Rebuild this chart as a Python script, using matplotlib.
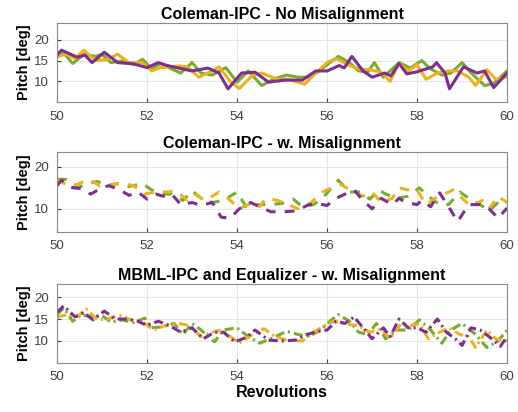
import numpy as np
import matplotlib
matplotlib.use("Agg")
import matplotlib.pyplot as plt

plt.rcParams['font.family'] = ['Liberation Sans', 'DejaVu Sans']

# colours (MATLAB-ish)
GREEN = '#77AC30'
ORANGE = '#EDB120'
PURPLE = '#7E2F8E'

# ---- panel 1: Coleman-IPC - No Misalignment (solid) ----
p1_purple_x = [50.0, 50.1, 50.45, 50.62, 50.78, 51.05, 51.35, 51.7, 52.0, 52.25, 52.45, 52.7, 53.0, 53.35,
               53.6, 53.8, 54.1, 54.4, 54.7, 55.07, 55.45, 55.75, 56.0, 56.27, 56.38, 56.55, 56.8, 57.0,
               57.28, 57.42, 57.6, 57.77, 58.0, 58.35, 58.43, 58.62, 58.72, 59.03, 59.33, 59.5, 59.7, 60.0]
p1_purple_y = [16.3, 17.5, 15.8, 16.3, 14.5, 17.0, 14.5, 14.2, 13.3, 14.5, 13.8, 13.2, 12.5, 13.2,
               12.0, 8.2, 12.0, 12.2, 9.8, 10.3, 10.3, 12.5, 12.5, 13.8, 13.2, 16.0, 12.5, 11.0,
               12.0, 11.3, 14.3, 11.8, 12.3, 13.5, 14.5, 12.0, 8.2, 13.5, 12.0, 12.5, 8.5, 12.0]
p1_green_x = [50.0, 50.15, 50.35, 50.6, 50.85, 51.0, 51.2, 51.5, 51.7, 51.9, 52.1, 52.3, 52.5, 52.75, 53.0,
              53.2, 53.45, 53.75, 54.0, 54.25, 54.55, 54.8, 55.1, 55.35, 55.6, 55.8, 56.1, 56.25, 56.5,
              56.7, 56.9, 57.05, 57.25, 57.45, 57.6, 57.85, 58.1, 58.3, 58.55, 58.75, 59.0, 59.2, 59.5,
              59.7, 60.0]
p1_green_y = [15.8, 16.8, 14.3, 16.5, 16.0, 16.5, 14.5, 15.0, 14.0, 15.3, 13.0, 14.3, 13.2, 12.0, 14.5,
              12.0, 11.5, 13.3, 9.8, 12.5, 9.0, 10.5, 11.5, 11.0, 11.0, 12.3, 14.8, 16.0, 14.5,
              12.5, 12.2, 14.5, 11.0, 13.0, 14.5, 13.2, 15.0, 13.0, 11.5, 12.0, 14.5, 12.0, 9.0,
              9.5, 12.5]
p1_orange_x = [50.0, 50.2, 50.4, 50.6, 50.85, 51.1, 51.35, 51.6, 51.9, 52.1, 52.3, 52.5, 52.7, 52.9, 53.15,
               53.45, 53.6, 53.85, 54.05, 54.35, 54.55, 54.9, 55.15, 55.5, 55.75, 56.0, 56.2, 56.5, 56.7,
               56.95, 57.2, 57.4, 57.6, 57.8, 58.0, 58.2, 58.45, 58.7, 58.9, 59.15, 59.3, 59.55, 59.75, 60.0]
p1_orange_y = [16.0, 16.5, 15.5, 17.5, 15.0, 15.2, 16.5, 14.5, 14.5, 12.5, 13.3, 13.5, 13.7, 13.5, 11.0,
               12.5, 13.5, 10.0, 8.3, 11.5, 12.0, 10.5, 10.5, 9.3, 12.0, 14.5, 15.5, 13.8, 13.0,
               12.8, 12.2, 10.0, 14.5, 12.5, 14.0, 10.5, 12.0, 12.5, 12.5, 11.0, 9.0, 12.8, 10.5, 11.0]

# ---- panel 2: Coleman-IPC - w. Misalignment (dashed) ----
p2_purple_x = [50.0, 50.1, 50.35, 50.55, 50.75, 51.0, 51.15, 51.4, 51.6, 51.8, 52.0, 52.2, 52.35, 52.55,
               52.75, 53.0, 53.2, 53.45, 53.65, 53.85, 54.05, 54.3, 54.5, 54.75, 55.05, 55.3, 55.6, 55.8,
               56.0, 56.2, 56.4, 56.6, 56.8, 57.0, 57.2, 57.45, 57.6, 57.75, 58.0, 58.1, 58.3, 58.5,
               58.7, 58.9, 59.15, 59.4, 59.6, 59.8, 60.0]
p2_purple_y = [15.5, 16.8, 15.0, 14.8, 13.5, 15.0, 15.5, 14.5, 13.2, 14.0, 12.3, 13.5, 13.0, 13.5,
               11.0, 11.5, 10.8, 11.5, 8.0, 7.8, 10.0, 11.5, 10.5, 9.3, 9.3, 9.5, 11.0, 11.2,
               10.8, 12.5, 13.5, 14.5, 12.0, 10.0, 12.5, 11.0, 12.5, 11.5, 11.0, 12.0, 10.5, 13.8,
               10.5, 7.0, 11.0, 11.0, 10.0, 7.8, 10.2]
p2_green_x = [50.0, 50.2, 50.45, 50.7, 50.9, 51.1, 51.35, 51.6, 51.9, 52.1, 52.35, 52.55, 52.8, 53.0,
              53.2, 53.45, 53.7, 54.0, 54.2, 54.5, 54.75, 55.0, 55.25, 55.45, 55.7, 55.9, 56.1, 56.25,
              56.5, 56.75, 56.95, 57.15, 57.3, 57.55, 57.8, 58.05, 58.25, 58.5, 58.7, 58.95, 59.15,
              59.4, 59.6, 59.85, 60.0]
p2_green_y = [17.0, 17.0, 15.0, 16.0, 16.5, 15.5, 16.0, 15.3, 16.0, 14.5, 13.5, 13.5, 12.0, 14.3,
              12.5, 11.5, 12.0, 14.0, 10.5, 11.0, 11.0, 11.3, 12.3, 10.5, 11.0, 12.5, 15.0, 16.8,
              14.0, 14.0, 12.3, 14.5, 13.5, 12.5, 13.0, 15.0, 13.0, 11.0, 11.0, 14.0, 12.5,
              11.0, 9.5, 12.0, 11.5]
p2_orange_x = [50.0, 50.25, 50.45, 50.7, 50.95, 51.2, 51.5, 51.7, 51.95, 52.2, 52.45, 52.65, 52.9, 53.05,
               53.3, 53.6, 53.8, 54.05, 54.35, 54.5, 54.65, 54.9, 55.15, 55.35, 55.65, 55.9, 56.1, 56.3,
               56.55, 56.8, 57.0, 57.2, 57.45, 57.6, 57.8, 58.0, 58.2, 58.4, 58.6, 58.8, 59.0, 59.2,
               59.45, 59.6, 59.8, 60.0]
p2_orange_y = [17.0, 15.5, 15.8, 17.0, 15.5, 15.8, 16.0, 15.5, 13.5, 14.0, 14.0, 14.3, 12.0, 13.5,
               12.0, 14.0, 12.5, 10.0, 11.5, 10.5, 12.5, 12.0, 11.0, 10.0, 11.5, 14.0, 15.0, 15.8,
               14.3, 13.0, 14.0, 11.5, 12.5, 15.0, 14.5, 14.5, 11.0, 12.5, 13.5, 14.5, 12.5, 10.5,
               12.0, 10.0, 13.0, 11.5]

# ---- panel 3: MBML-IPC and Equalizer - w. Misalignment (dash-dot) ----
p3_purple_x = [50.0, 50.15, 50.4, 50.6, 50.8, 51.05, 51.3, 51.55, 51.8, 52.0, 52.25, 52.5, 52.75, 53.0,
               53.25, 53.5, 53.7, 53.95, 54.2, 54.4, 54.7, 55.0, 55.3, 55.55, 55.8, 56.0, 56.2, 56.4,
               56.6, 56.8, 57.0, 57.25, 57.4, 57.6, 57.8, 58.0, 58.2, 58.45, 58.65, 58.85, 59.0, 59.2,
               59.4, 59.6, 59.85, 60.0]
p3_purple_y = [16.5, 18.0, 15.5, 16.5, 14.8, 16.8, 15.0, 15.0, 14.5, 13.5, 14.5, 13.5, 12.0, 13.0,
               10.5, 12.0, 12.0, 9.8, 10.8, 12.5, 10.2, 10.0, 10.2, 11.5, 12.2, 12.5, 14.5, 14.0,
               15.5, 13.0, 10.5, 13.0, 11.0, 15.0, 13.0, 13.0, 12.0, 15.0, 12.0, 10.5, 9.0, 13.0,
               12.5, 11.0, 8.8, 11.0]
p3_green_x = [50.0, 50.15, 50.35, 50.55, 50.75, 51.0, 51.2, 51.45, 51.7, 51.95, 52.1, 52.35, 52.6, 52.8,
              53.0, 53.2, 53.5, 53.7, 54.0, 54.25, 54.5, 54.75, 55.1, 55.35, 55.6, 55.85, 56.1, 56.25,
              56.5, 56.7, 56.9, 57.1, 57.3, 57.55, 57.8, 58.05, 58.3, 58.55, 58.75, 59.0, 59.3, 59.55,
              59.8, 60.0]
p3_green_y = [16.0, 17.5, 14.5, 16.0, 15.5, 15.8, 14.3, 14.8, 14.2, 15.2, 13.0, 13.2, 14.0, 11.5,
              14.0, 12.5, 9.8, 12.5, 13.0, 11.0, 9.5, 10.5, 12.2, 11.5, 11.0, 12.5, 14.8, 16.0,
              14.5, 12.0, 11.5, 14.0, 10.5, 12.5, 12.5, 14.8, 12.5, 9.5, 12.5, 14.0, 11.5, 8.5,
              10.0, 12.5]
p3_orange_x = [50.0, 50.25, 50.45, 50.65, 50.9, 51.1, 51.4, 51.65, 51.95, 52.15, 52.4, 52.7, 52.95, 53.2,
               53.45, 53.65, 53.85, 54.05, 54.35, 54.6, 54.85, 55.1, 55.45, 55.7, 55.95, 56.15, 56.45,
               56.7, 56.95, 57.2, 57.4, 57.65, 57.85, 58.05, 58.25, 58.5, 58.7, 58.95, 59.15, 59.3,
               59.55, 59.75, 60.0]
p3_orange_y = [15.5, 16.0, 15.5, 17.3, 14.8, 15.0, 15.8, 14.8, 14.0, 12.5, 13.5, 14.0, 13.5, 11.0,
               12.0, 12.5, 11.0, 9.5, 11.5, 12.8, 11.0, 10.2, 10.0, 12.0, 13.5, 14.5, 13.8,
               13.5, 12.0, 12.8, 10.5, 14.0, 13.5, 14.0, 10.5, 12.0, 13.0, 11.5, 11.0, 8.5,
               12.5, 10.5, 10.0]

titles = ['Coleman-IPC - No Misalignment',
          'Coleman-IPC - w. Misalignment',
          'MBML-IPC and Equalizer - w. Misalignment']

panels = [
    [(p1_green_x, p1_green_y, GREEN), (p1_orange_x, p1_orange_y, ORANGE), (p1_purple_x, p1_purple_y, PURPLE)],
    [(p2_green_x, p2_green_y, GREEN), (p2_orange_x, p2_orange_y, ORANGE), (p2_purple_x, p2_purple_y, PURPLE)],
    [(p3_green_x, p3_green_y, GREEN), (p3_orange_x, p3_orange_y, ORANGE), (p3_purple_x, p3_purple_y, PURPLE)],
]
styles = ['-', (0, (3.2, 3.0)), (0, (3.0, 1.3, 0.7, 1.3))]
ylims = [(5, 24), (4.5, 23.5), (5, 23)]
yticks = [[10, 15, 20], [10, 20], [10, 15, 20]]
# axes rectangles in figure fractions
rects = [[0.110, 0.752, 0.869, 0.192],
         [0.110, 0.437, 0.869, 0.194],
         [0.110, 0.119, 0.869, 0.192]]

fig = plt.figure(figsize=(5.18, 4.12), dpi=100)
for i in range(3):
    ax = fig.add_axes(rects[i])
    for x, y, c in panels[i]:
        ax.plot(x, y, color=c, lw=2.2, linestyle=styles[i],
                solid_joinstyle='round', dash_joinstyle='round', dash_capstyle='butt')
    ax.set_xlim(50, 60)
    ax.set_ylim(*ylims[i])
    ax.set_xticks([50, 52, 54, 56, 58, 60])
    ax.set_yticks(yticks[i])
    ax.grid(True, color='#e6e6e6', lw=0.8)
    ax.set_axisbelow(True)
    ax.tick_params(direction='in', labelsize=9.5, colors='#404040', length=3, pad=6)
    for s in ax.spines.values():
        s.set_color('#8a8a8a')
        s.set_linewidth(0.8)
    ax.set_title(titles[i], fontsize=11.5, fontweight='bold', pad=3)
    ax.set_ylabel('Pitch [deg]', fontsize=10.5, fontweight='bold', labelpad=2)
    if i == 2:
        ax.set_xlabel('Revolutions', fontsize=11.5, fontweight='bold', labelpad=1)

fig.savefig('out.png', dpi=100)
